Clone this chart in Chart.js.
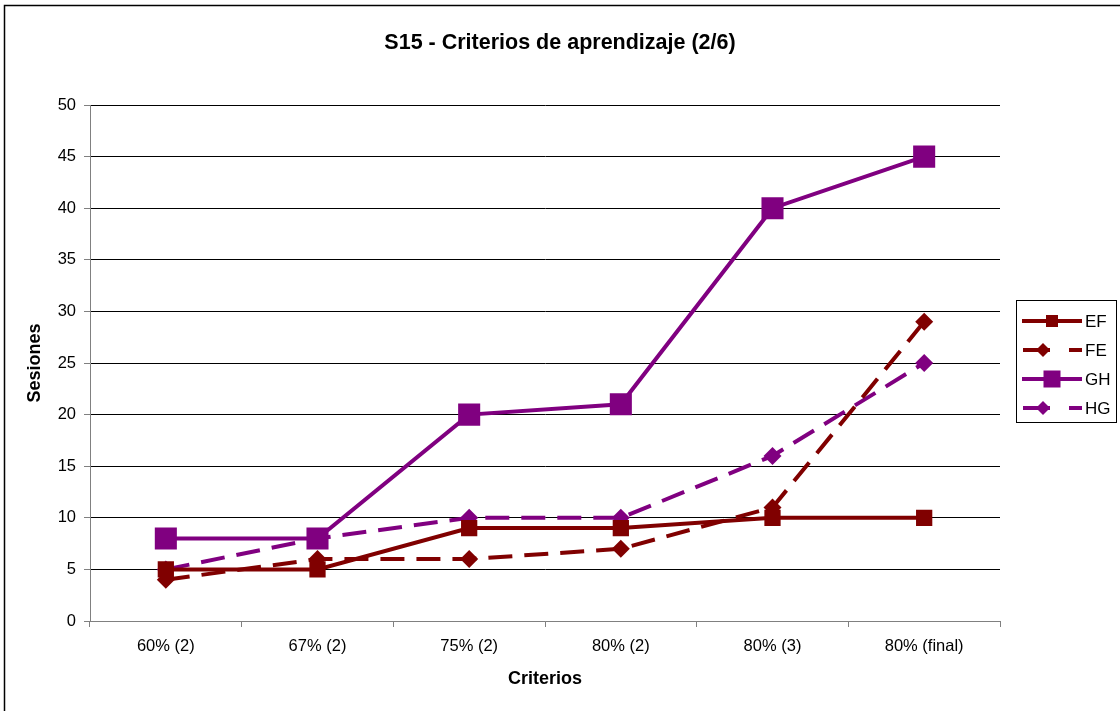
<!DOCTYPE html>
<html>
<head>
<meta charset="utf-8">
<script src="https://cdn.jsdelivr.net/npm/chart.js@4/dist/chart.umd.min.js"></script>
<style>
  html, body { margin: 0; padding: 0; background: #fff; }
  #wrap { width: 1120px; height: 711px; }
</style>
</head>
<body>
<div id="wrap"><canvas id="grafico" width="1120" height="711"></canvas></div>
<script>
// datos
var criterios = ['60% (2)', '67% (2)', '75% (2)', '80% (2)', '80% (3)', '80% (final)'];
var serieEF = [5, 5, 9, 9, 10, 10];
var serieFE = [4, 6, 6, 7, 11, 29];
var serieGH = [8, 8, 20, 21, 40, 45];
var serieHG = [5, 8, 10, 10, 16, 25];

var rojo = '#800000';
var morado = '#800080';
var fuente = 'Arial, "Liberation Sans", sans-serif';

// marco exterior
var marco = {
    id: 'marco',
    beforeDraw: function(chart){
        var ctx = chart.ctx;
        ctx.save();
        ctx.fillStyle = '#fff';
        ctx.fillRect(0, 0, chart.width, chart.height);
        ctx.strokeStyle = '#000';
        ctx.lineWidth = 1.5;
        ctx.strokeRect(4.5, 5.5, 1300, 1000);
        ctx.restore();
    }
};

// leyenda a mano (con el guion como en el original)
var leyenda = {
    id: 'leyenda',
    afterDraw: function(chart){
        var ctx = chart.ctx;
        ctx.save();
        ctx.strokeStyle = '#000';
        ctx.lineWidth = 1;
        ctx.strokeRect(1016.5, 300.5, 100, 122);
        var ys = [321, 350, 379, 408];
        chart.data.datasets.forEach(function(ds, i){
            var y = ys[i];
            ctx.strokeStyle = ds.borderColor;
            ctx.lineWidth = 4;
            ctx.setLineDash([]);
            ctx.beginPath();
            if (ds.borderDash && ds.borderDash.length) {
                ctx.moveTo(1023, y); ctx.lineTo(1050, y);
                ctx.moveTo(1069, y); ctx.lineTo(1082, y);
            } else {
                ctx.moveTo(1022, y); ctx.lineTo(1082, y);
            }
            ctx.stroke();
            ctx.fillStyle = ds.pointBackgroundColor;
            var cx = 1052;
            if (ds.pointStyle === 'rect') {
                var s = ds.legendaTam;
                ctx.fillRect(cx - s / 2, y - s / 2, s, s);
            } else {
                var r = 7;
                ctx.beginPath();
                ctx.moveTo(cx - 9, y - r); ctx.lineTo(cx - 9 + r, y); ctx.lineTo(cx - 9, y + r); ctx.lineTo(cx - 9 - r, y);
                ctx.closePath();
                ctx.fill();
            }
            ctx.fillStyle = '#000';
            ctx.font = '17px ' + fuente;
            ctx.textBaseline = 'middle';
            ctx.textAlign = 'left';
            ctx.fillText(ds.label, 1085, y + 1);
        });
        ctx.restore();
    }
};

var ctx = document.getElementById('grafico');

new Chart(ctx, {
    type: 'line',
    data: {
        labels: criterios,
        datasets: [
            {
                label: 'EF', data: serieEF,
                borderColor: rojo, backgroundColor: rojo, pointBackgroundColor: rojo,
                borderWidth: 4, pointStyle: 'rect', pointRadius: 11.5, pointBorderWidth: 0,
                legendaTam: 12
            },
            {
                label: 'FE', data: serieFE,
                borderColor: rojo, backgroundColor: rojo, pointBackgroundColor: rojo,
                borderWidth: 4, borderDash: [24, 12], pointStyle: 'rectRot', pointRadius: 9, pointBorderWidth: 0
            },
            {
                label: 'GH', data: serieGH,
                borderColor: morado, backgroundColor: morado, pointBackgroundColor: morado,
                borderWidth: 4, pointStyle: 'rect', pointRadius: 15.6, pointBorderWidth: 0,
                legendaTam: 17
            },
            {
                label: 'HG', data: serieHG,
                borderColor: morado, backgroundColor: morado, pointBackgroundColor: morado,
                borderWidth: 4, borderDash: [24, 12], pointStyle: 'rectRot', pointRadius: 9, pointBorderWidth: 0
            }
        ]
    },
    options: {
        responsive: false,
        animation: false,
        layout: { padding: 0 },
        plugins: {
            legend: { display: false },
            tooltip: { enabled: false },
            title: {
                display: true,
                fullSize: true,
                text: 'S15 - Criterios de aprendizaje (2/6)',
                color: '#000',
                font: { family: fuente, size: 21.5, weight: 'bold' },
                padding: { top: 30, bottom: 49.2 }
            }
        },
        elements: { line: { tension: 0 } },
        scales: {
            x: {
                offset: true,
                afterFit: function(s){ s.height = 90; },
                grid: {
                    offset: true,
                    drawOnChartArea: false,
                    tickLength: 6,
                    tickColor: '#808080',
                    lineWidth: 1
                },
                border: { color: '#808080', width: 1 },
                ticks: {
                    color: '#000',
                    padding: 10,
                    maxRotation: 0,
                    font: { family: fuente, size: 16.5 }
                },
                title: {
                    display: true,
                    text: 'Criterios',
                    color: '#000',
                    font: { family: fuente, size: 18, weight: 'bold' },
                    padding: { top: 0, bottom: 21 }
                }
            },
            y: {
                min: 0,
                max: 50,
                afterFit: function(s){ s.width = 90; },
                grid: {
                    color: function(c){ return c.tick && c.tick.value === 0 ? '#808080' : '#000'; },
                    lineWidth: 1,
                    tickLength: 6,
                    tickColor: '#808080'
                },
                border: { color: '#808080', width: 1 },
                ticks: {
                    stepSize: 5,
                    color: '#000',
                    padding: 8,
                    font: { family: fuente, size: 16.5 }
                },
                title: {
                    display: true,
                    text: 'Sesiones',
                    color: '#000',
                    font: { family: fuente, size: 18, weight: 'bold' },
                    padding: { top: 24, bottom: 0 }
                }
            },
            // eje vacio a la derecha para dejar sitio a la leyenda
            hueco: {
                position: 'right',
                afterFit: function(s){ s.width = 120; },
                grid: { display: false, drawTicks: false },
                border: { display: false },
                ticks: { display: false }
            }
        }
    },
    plugins: [marco, leyenda]
});
</script>
</body>
</html>
